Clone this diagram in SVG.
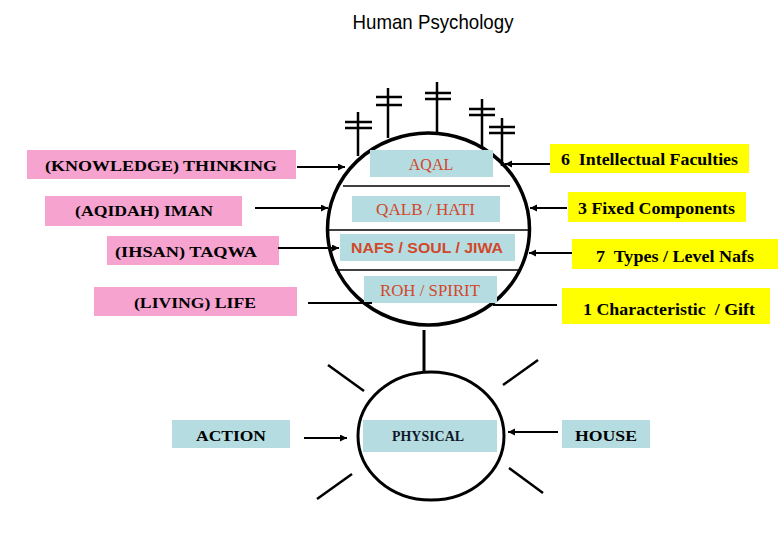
<svg xmlns="http://www.w3.org/2000/svg" width="778" height="540" viewBox="0 0 778 540">
<style>
.pink{fill:#f7a3d0}
.yel{fill:#ffff00}
.teal{fill:#b5dde1}
.lt{font-family:"Liberation Serif",serif;font-weight:bold;font-size:15px;fill:#000}
.rt{font-family:"Liberation Serif",serif;font-weight:bold;font-size:17px;fill:#000;white-space:pre}
.in{font-family:"Liberation Serif",serif;font-size:16px;fill:#d2472a}
.ins{font-family:"Liberation Sans",sans-serif;font-weight:bold;font-size:15px;fill:#d2472a}
.ln{stroke:#000;stroke-width:2;fill:none}
.ant{stroke:#000;stroke-width:2.5;fill:none}
.div{stroke:#000;stroke-width:1.5}
</style>
<defs>
<marker id="ah" markerUnits="userSpaceOnUse" markerWidth="8" markerHeight="8" refX="7" refY="3.5" orient="auto">
<path d="M0,0 L7,3.5 L0,7 z" fill="#000"/>
</marker>
</defs>
<rect width="778" height="540" fill="#fff"/>
<text x="433" y="29" text-anchor="middle" font-family="Liberation Sans,sans-serif" font-size="21" textLength="161" lengthAdjust="spacingAndGlyphs" fill="#000">Human Psychology</text>

<g id="antennas">
<path class="ant" d="M358,112 V156 M345,122 H372 M345,128 H372"/>
<path class="ant" d="M388,88 V138 M376,97 H402 M376,105 H402"/>
<path class="ant" d="M437,82 V133 M425,93 H451 M425,99 H451"/>
<path class="ant" d="M482,99 V148 M469,109 H495 M469,115 H495"/>
<path class="ant" d="M502,118 V166 M489,127 H515 M489,133 H515"/>
</g>

<g id="mind">
<ellipse cx="428.5" cy="229" rx="101" ry="96" fill="none" stroke="#000" stroke-width="3.5"/>
<line class="div" x1="343" y1="186" x2="510" y2="186"/>
<line class="div" x1="328" y1="230" x2="529" y2="230"/>
<line class="div" x1="335" y1="270" x2="521" y2="270"/>
</g>
<g id="aqal"><rect class="teal" x="370" y="150" width="123" height="27"/><text class="in" x="431" y="170" text-anchor="middle">AQAL</text></g>
<g id="qalb"><rect class="teal" x="352" y="196" width="148" height="26"/><text class="in" x="425.5" y="215" text-anchor="middle" textLength="99" lengthAdjust="spacingAndGlyphs">QALB / HATI</text></g>
<g id="nafs"><rect class="teal" x="340" y="234" width="175" height="27"/><text class="ins" x="427" y="253" text-anchor="middle" textLength="152" lengthAdjust="spacingAndGlyphs">NAFS / SOUL / JIWA</text></g>
<g id="roh"><rect class="teal" x="364" y="276" width="133" height="27"/><text class="in" x="430" y="296" text-anchor="middle" textLength="100" lengthAdjust="spacingAndGlyphs">ROH / SPIRIT</text></g>

<g id="knowledge"><rect class="pink" x="27" y="150" width="269" height="29"/><text class="lt" x="161" y="171" text-anchor="middle" textLength="232" lengthAdjust="spacingAndGlyphs">(KNOWLEDGE) THINKING</text></g>
<g id="aqidah"><rect class="pink" x="45" y="196" width="197" height="30"/><text class="lt" x="144" y="216" text-anchor="middle" textLength="138" lengthAdjust="spacingAndGlyphs">(AQIDAH) IMAN</text></g>
<g id="ihsan"><rect class="pink" x="107" y="236" width="172" height="29"/><text class="lt" x="186" y="257" text-anchor="middle" textLength="142" lengthAdjust="spacingAndGlyphs">(IHSAN) TAQWA</text></g>
<g id="living"><rect class="pink" x="94" y="287" width="203" height="29"/><text class="lt" x="195" y="308" text-anchor="middle" textLength="122" lengthAdjust="spacingAndGlyphs">(LIVING) LIFE</text></g>

<g id="faculties"><rect class="yel" x="550" y="144" width="199" height="29"/><text class="rt" x="649.5" y="165" text-anchor="middle" textLength="177" lengthAdjust="spacingAndGlyphs">6  Intellectual Faculties</text></g>
<g id="fixed"><rect class="yel" x="568" y="192" width="178" height="30"/><text class="rt" x="656.5" y="214" text-anchor="middle" textLength="157" lengthAdjust="spacingAndGlyphs">3 Fixed Components</text></g>
<g id="types"><rect class="yel" x="572" y="239" width="206" height="30"/><text class="rt" x="675" y="262" text-anchor="middle" textLength="158" lengthAdjust="spacingAndGlyphs">7  Types / Level Nafs</text></g>
<g id="gift"><rect class="yel" x="562" y="288" width="208" height="36"/><text class="rt" x="669" y="315" text-anchor="middle" textLength="172" lengthAdjust="spacingAndGlyphs">1 Characteristic  / Gift</text></g>

<g id="physical">
<ellipse cx="431" cy="436" rx="73" ry="64" fill="none" stroke="#000" stroke-width="3"/>
<rect class="teal" x="363" y="420" width="134" height="32"/>
<text x="428" y="441" text-anchor="middle" font-family="Liberation Serif,serif" font-weight="bold" font-size="15" fill="#10182a" textLength="72" lengthAdjust="spacingAndGlyphs">PHYSICAL</text>
</g>
<g id="action"><rect class="teal" x="172" y="420" width="118" height="28"/><text class="lt" x="231" y="441" text-anchor="middle" textLength="70" lengthAdjust="spacingAndGlyphs">ACTION</text></g>
<g id="house"><rect class="teal" x="562" y="420" width="88" height="28"/><text class="lt" x="606" y="441" text-anchor="middle" textLength="62" lengthAdjust="spacingAndGlyphs">HOUSE</text></g>

<g id="connectors">
<line class="ln" x1="297" y1="167" x2="345" y2="167" marker-end="url(#ah)"/>
<line class="ln" x1="255" y1="208" x2="328" y2="208" marker-end="url(#ah)"/>
<line class="ln" x1="278" y1="248" x2="339" y2="248" marker-end="url(#ah)"/>
<line class="ln" x1="308" y1="303" x2="372" y2="303"/>
<line class="ln" x1="550" y1="164" x2="505" y2="164" marker-end="url(#ah)"/>
<line class="ln" x1="567" y1="208" x2="530" y2="208" marker-end="url(#ah)"/>
<line class="ln" x1="572" y1="253" x2="529" y2="253" marker-end="url(#ah)"/>
<line class="ln" x1="557" y1="305" x2="493" y2="305"/>
<line x1="424" y1="330" x2="424" y2="372" stroke="#000" stroke-width="3"/>
<line class="ln" x1="304" y1="438" x2="347" y2="438" marker-end="url(#ah)"/>
<line class="ln" x1="558" y1="432" x2="508" y2="432" marker-end="url(#ah)"/>
<line class="ant" stroke-width="3" x1="328" y1="365" x2="364" y2="391"/>
<line class="ant" stroke-width="3" x1="538" y1="360" x2="503" y2="385"/>
<line class="ant" stroke-width="3" x1="352" y1="474" x2="317" y2="499"/>
<line class="ant" stroke-width="3" x1="509" y1="468" x2="543" y2="493"/>
</g>
</svg>
